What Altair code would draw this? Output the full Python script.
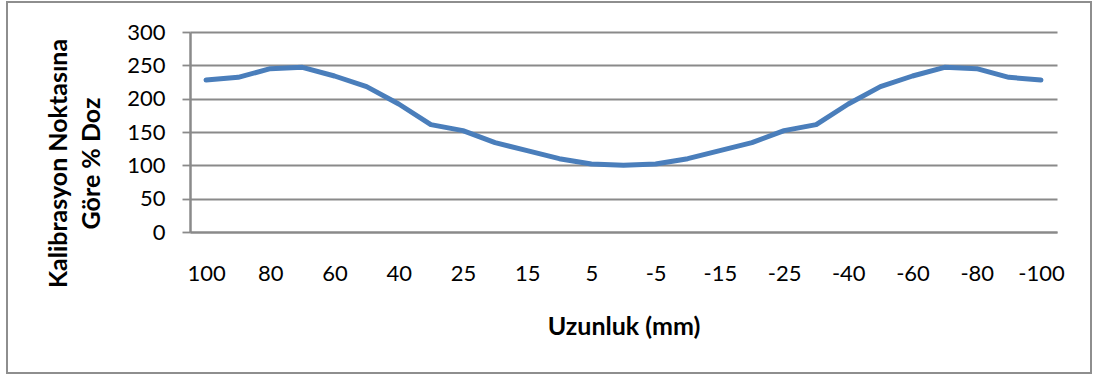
import altair as alt
import pandas as pd

categories = ["100", "90", "80", "70", "60", "50", "40", "30", "25", "20", "15", "10", "5", "0",
              "-5", "-10", "-15", "-20", "-25", "-30", "-40", "-50", "-60", "-70", "-80", "-90", "-100"]
values = [228, 232, 245, 247, 234, 218, 192, 161, 152, 134, 122, 110, 102, 100,
          102, 110, 122, 134, 152, 161, 192, 218, 234, 247, 245, 232, 228]
shown_labels = ["100", "80", "60", "40", "25", "15", "5", "-5", "-15", "-25", "-40", "-60", "-80", "-100"]

df = pd.DataFrame({"pos": categories, "doz": values})

FONT = "Lato"
GRID = "#8a8a8a"

line = alt.Chart(df).mark_line(color="#4a7ebb", strokeWidth=5, strokeJoin="round", strokeCap="round").encode(
    x=alt.X("pos:N", sort=categories, scale=alt.Scale(padding=0.5),
            axis=alt.Axis(values=shown_labels, labelAngle=0, ticks=False, grid=False,
                          domainColor=GRID, domainWidth=2,
                          labelFont=FONT, labelFontSize=22, labelColor="#000000",
                          labelPadding=31,
                          title="Uzunluk (mm)", titleFont=FONT, titleFontSize=25,
                          titleFontWeight="bold", titleColor="#000000",
                          titleY=94, titleBaseline="middle")),
    y=alt.Y("doz:Q", scale=alt.Scale(domain=[0, 300], nice=False),
            axis=alt.Axis(values=[0, 50, 100, 150, 200, 250, 300], grid=True,
                          gridColor=GRID, gridWidth=1.8,
                          domainColor=GRID, domainWidth=2.5,
                          tickColor=GRID, tickSize=8, tickWidth=1.8,
                          labelFont=FONT, labelFontSize=22, labelColor="#000000",
                          labelPadding=17,
                          title=["Kalibrasyon Noktasına", "Göre % Doz"],
                          titleFont=FONT, titleFontSize=25, titleFontWeight="bold",
                          titleColor="#000000", titleLineHeight=33,
                          titleAngle=270, titleX=-132, titleY=131,
                          titleAlign="center", titleBaseline="middle")),
)

frame = alt.Chart(pd.DataFrame({"k": [0]})).mark_rect(
    fill=None, stroke="#8e8e8e", strokeWidth=2, clip=False
).encode(
    x=alt.value(-183), x2=alt.value(901), y=alt.value(-30), y2=alt.value(341)
)

chart = alt.layer(frame, line).properties(
    width=867, height=200,
    padding={"left": 190, "top": 32, "right": 36, "bottom": 146},
    autosize=alt.AutoSizeParams(type="none"),
    background="#ffffff",
).configure_view(stroke=None)

chart.save("out.html", embed_options={"renderer": "svg", "actions": False})
